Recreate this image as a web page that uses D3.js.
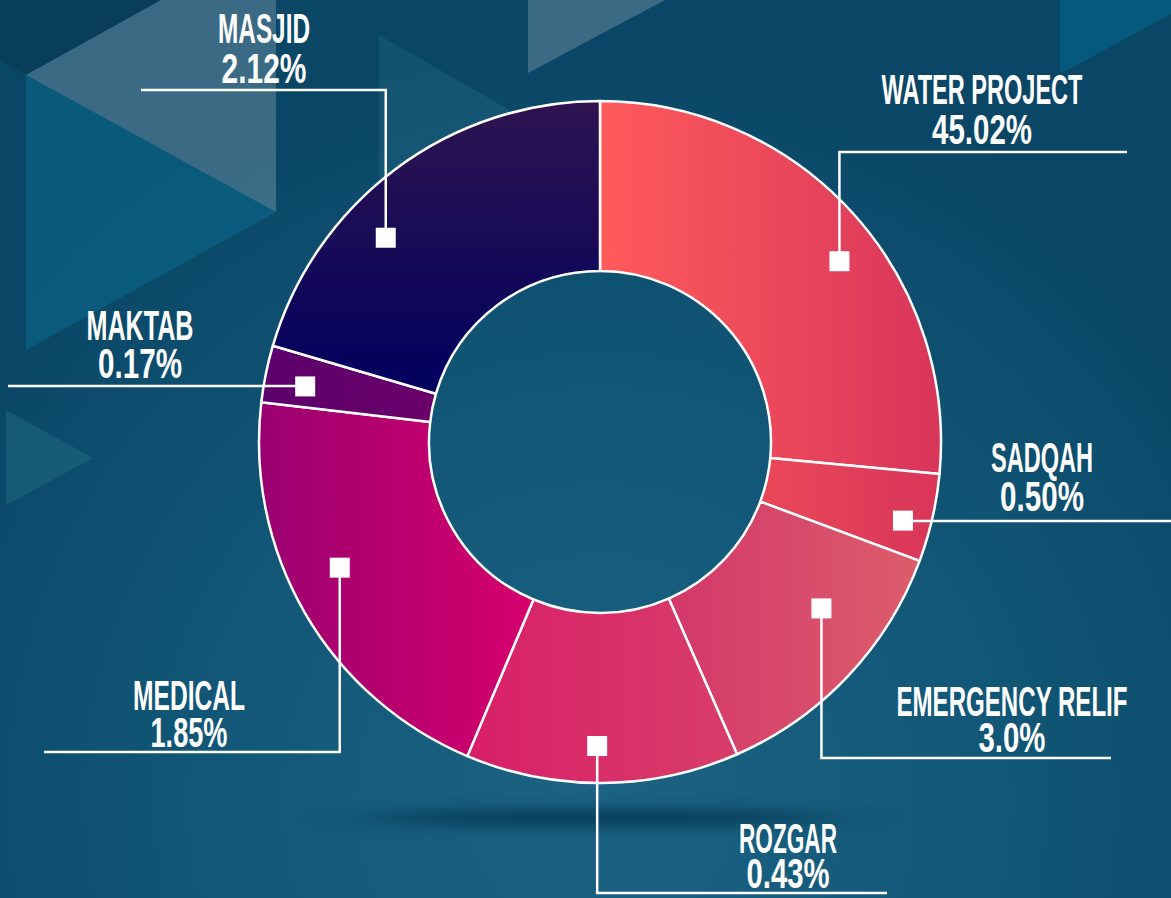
<!DOCTYPE html>
<html>
<head>
<meta charset="utf-8">
<script src="https://cdn.jsdelivr.net/npm/d3@7"></script>
<style>
  html, body { margin: 0; padding: 0; background: #0e4f6f; }
  svg { display: block; }
</style>
</head>
<body>
<div id="chart"></div>
<script>
// chart values
const categories = ["WATER PROJECT", "SADQAH", "EMERGENCY RELIF", "ROZGAR", "MEDICAL", "MAKTAB", "MASJID"];
const valueLabels = ["45.02%", "0.50%", "3.0%", "0.43%", "1.85%", "0.17%", "2.12%"];
// slice sizes as drawn (degrees of the ring)
const sliceDegrees = [95.4, 15.0, 45.9, 46.6, 73.8, 9.7, 73.6];

// colours per slice: [from, to, direction]
const sliceColors = [
    ["#ff5b5b", "#d8355b", "h"],
    ["#ea4858", "#d8355a", "h"],
    ["#d3386a", "#dc5d6b", "h"],
    ["#d81f68", "#d83e69", "h"],
    ["#9a0070", "#d6006c", "h"],
    ["#5c006b", "#6a006a", "h"],
    ["#2e1450", "#00005e", "v"]
];

// label layout
const markerFrac = [0.555, 0.61, 0.36, 0.52, 0.56, 0.41, 0.37];
const markerR = [300, 313, 277, 304, 289, 300, 296];
const elbowY = [152, 521, 758, 893, 752, 386, 90];
const endX = [1127, 1171, 1111, 887, 44, 8, 141];
const labelX = [982, 1042, 1012, 788, 189, 140, 264];
const nameY = [104, 472, 716, 853, 710, 340, 43];
const valueY = [144, 511, 752, 888, 747, 378, 83];
const nameW = [201, 102, 231, 98, 112, 107, 92];
const valueW = [100, 84, 67, 83, 77, 84, 85];

const WIDTH = 1171, HEIGHT = 898;
const CX = 600, CY = 442, OUTER = 341, INNER = 171;

const svg = d3.select("#chart")
    .append("svg")
    .attr("width", WIDTH)
    .attr("height", HEIGHT);

const defs = svg.append("defs");

// background
const bg = defs.append("radialGradient")
    .attr("id", "bg")
    .attr("gradientUnits", "userSpaceOnUse")
    .attr("cx", 600).attr("cy", 800).attr("r", 760);
bg.append("stop").attr("offset", 0).attr("stop-color", "#1c6383");
bg.append("stop").attr("offset", 0.55).attr("stop-color", "#115676");
bg.append("stop").attr("offset", 1).attr("stop-color", "#0a4666");

const blur = defs.append("filter").attr("id", "blur")
    .attr("x", "-50%").attr("y", "-300%").attr("width", "200%").attr("height", "700%");
blur.append("feGaussianBlur").attr("stdDeviation", "40 7");

svg.append("rect")
    .attr("width", WIDTH)
    .attr("height", HEIGHT)
    .attr("fill", "url(#bg)");

// decorative triangles
const shapes = [
    {pts: [[0, 0], [161, 0], [26, 75], [0, 60]], fill: "#07384f", op: 0.55},
    {pts: [[26, 75], [276, 212], [26, 350]], fill: "#0a6a8c", op: 0.55},
    {pts: [[26, 75], [161, 0], [276, 0], [276, 212]], fill: "#ffffff", op: 0.2},
    {pts: [[379, 35], [379, 330], [640, 185]], fill: "#2a7a90", op: 0.25},
    {pts: [[528, 0], [665, 0], [528, 73]], fill: "#ffffff", op: 0.2},
    {pts: [[1060, 0], [1171, 0], [1171, 14], [1060, 74]], fill: "#006a90", op: 0.55},
    {pts: [[6, 410], [93, 458], [6, 505]], fill: "#2a7a8a", op: 0.35}
];
svg.append("g").selectAll("polygon")
    .data(shapes)
    .join("polygon")
    .attr("points", d => d.pts.map(p => p.join(",")).join(" "))
    .attr("fill", d => d.fill)
    .attr("fill-opacity", d => d.op);

// shadow under the ring
svg.append("ellipse")
    .attr("cx", CX).attr("cy", 818)
    .attr("rx", 230).attr("ry", 9)
    .attr("fill", "#06324a")
    .attr("opacity", 0.75)
    .attr("filter", "url(#blur)");

// slice gradients
sliceColors.forEach((c, i) => {
    const g = defs.append("linearGradient")
        .attr("id", "slice" + i)
        .attr("x1", 0).attr("y1", 0)
        .attr("x2", c[2] === "h" ? 1 : 0)
        .attr("y2", c[2] === "h" ? 0 : 1);
    g.append("stop").attr("offset", 0).attr("stop-color", c[0]);
    g.append("stop").attr("offset", 1).attr("stop-color", c[1]);
});

const pie = d3.pie().sort(null).value(d => d);
const arcs = pie(sliceDegrees);

const arc = d3.arc().innerRadius(INNER).outerRadius(OUTER);

const ring = svg.append("g")
    .attr("transform", `translate(${CX},${CY})`);

ring.selectAll("path")
    .data(arcs)
    .join("path")
    .attr("d", arc)
    .attr("fill", (d, i) => `url(#slice${i})`)
    .attr("stroke", "#ffffff")
    .attr("stroke-width", 2.5)
    .attr("stroke-linejoin", "round");

// marker positions inside each slice
const markers = arcs.map((d, i) => {
    const a = d.startAngle + (d.endAngle - d.startAngle) * markerFrac[i];
    const p = d3.arc().innerRadius(markerR[i]).outerRadius(markerR[i])
        .centroid({startAngle: a, endAngle: a});
    return [CX + p[0], CY + p[1]];
});

// leader lines
svg.append("g").selectAll("path")
    .data(markers)
    .join("path")
    .attr("d", (m, i) => `M${m[0]},${m[1]}V${elbowY[i]}H${endX[i]}`)
    .attr("fill", "none")
    .attr("stroke", "#ffffff")
    .attr("stroke-width", 2.5);

svg.append("g").selectAll("rect")
    .data(markers)
    .join("rect")
    .attr("x", m => m[0] - 10)
    .attr("y", m => m[1] - 10)
    .attr("width", 20)
    .attr("height", 20)
    .attr("fill", "#ffffff");

// labels: condensed look by squeezing a narrow font to the measured width
const labels = svg.append("g")
    .attr("font-family", "'Liberation Sans Narrow', 'Liberation Sans', Arial, sans-serif")
    .attr("font-weight", "bold")
    .attr("font-size", 38)
    .attr("fill", "#ffffff")
    .attr("text-anchor", "middle");

function squeeze(sel, ys, ws) {
    sel.each(function(d, i) {
        const t = d3.select(this);
        const k = ws[i] / this.getComputedTextLength();
        t.attr("transform", `translate(${labelX[i]},${ys[i]}) scale(${k},1.1)`);
    });
}

labels.selectAll("text.name")
    .data(categories)
    .join("text")
    .attr("class", "name")
    .text(d => d)
    .call(squeeze, nameY, nameW);

labels.selectAll("text.value")
    .data(valueLabels)
    .join("text")
    .attr("class", "value")
    .text(d => d)
    .call(squeeze, valueY, valueW);
</script>
</body>
</html>
